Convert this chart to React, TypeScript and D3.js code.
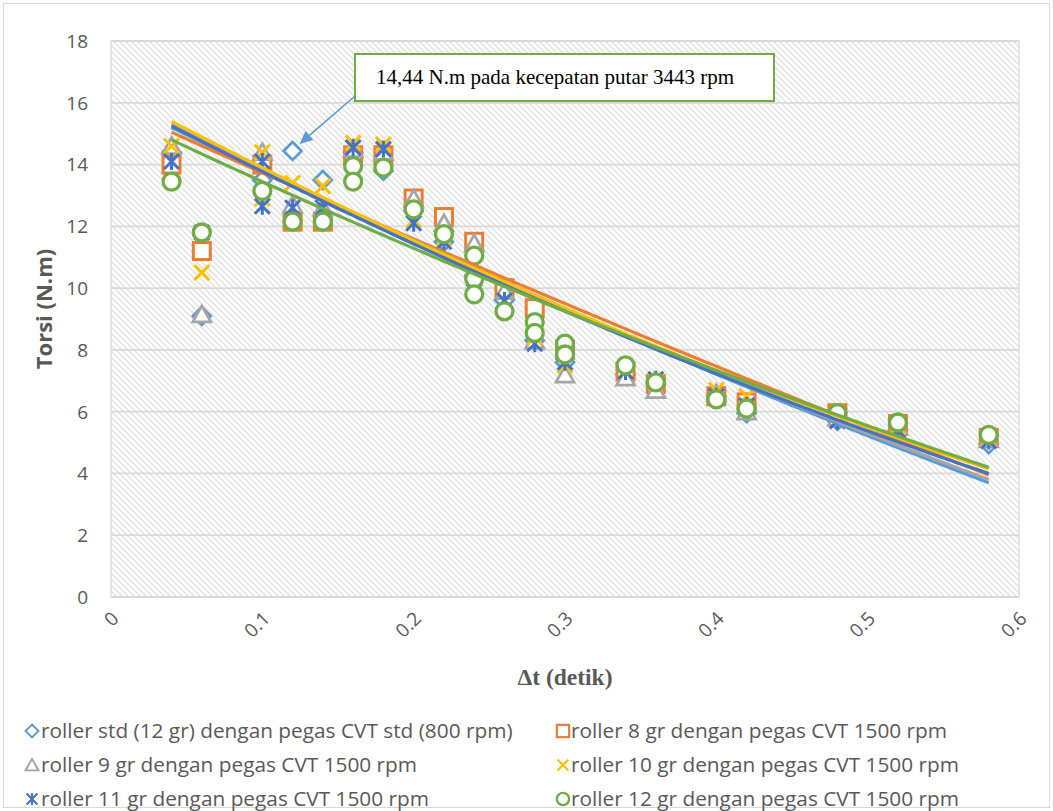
import React from "react";
import * as d3 from "d3";

// ---------- data ----------
const seriesNames = [
  "roller std (12 gr) dengan pegas CVT std (800 rpm)",
  "roller 8 gr dengan pegas CVT 1500 rpm",
  "roller 9 gr dengan pegas CVT 1500 rpm",
  "roller 10 gr dengan pegas CVT 1500 rpm",
  "roller 11 gr dengan pegas CVT 1500 rpm",
  "roller 12 gr dengan pegas CVT 1500 rpm",
];
const seriesColors = ["#5B9BD5", "#ED7D31", "#A5A5A5", "#FFC000", "#4472C4", "#70AD47"];
const seriesMarkers = ["diamond", "square", "triangle", "x", "star", "circle"];

const stdX = [0.04, 0.06, 0.1, 0.12, 0.14, 0.16, 0.18, 0.2, 0.22, 0.24, 0.26, 0.28, 0.3, 0.34, 0.36, 0.4, 0.42, 0.48, 0.52, 0.58];
const stdY = [14.4, 9.1, 13.5, 14.44, 13.5, 14.4, 13.8, 12.5, 11.5, 10.4, 9.6, 8.3, 7.6, 7.2, 6.9, 6.5, 5.95, 5.7, 5.4, 4.95];

const r8X = [0.04, 0.06, 0.1, 0.12, 0.14, 0.16, 0.18, 0.2, 0.22, 0.24, 0.26, 0.28, 0.3, 0.34, 0.36, 0.4, 0.42, 0.48, 0.52, 0.58];
const r8Y = [14.0, 11.2, 14.0, 12.15, 12.15, 14.3, 14.3, 12.9, 12.3, 11.5, 10.0, 9.35, 8.0, 7.3, 6.9, 6.5, 6.3, 5.95, 5.6, 5.15];

const r9X = [0.04, 0.06, 0.1, 0.12, 0.14, 0.16, 0.18, 0.2, 0.22, 0.24, 0.26, 0.28, 0.3, 0.34, 0.36, 0.4, 0.42, 0.48, 0.52, 0.58];
const r9Y = [14.6, 9.15, 14.4, 12.7, 12.6, 14.5, 14.4, 12.9, 12.1, 11.45, 9.9, 8.3, 7.2, 7.1, 6.7, 6.6, 6.0, 5.8, 5.5, 5.1];

const r10X = [0.04, 0.06, 0.1, 0.1, 0.12, 0.14, 0.16, 0.18, 0.2, 0.22, 0.24, 0.26, 0.28, 0.3, 0.34, 0.36, 0.4, 0.42, 0.48, 0.52, 0.58];
const r10Y = [14.6, 10.5, 14.4, 12.9, 13.4, 13.3, 14.7, 14.65, 12.2, 11.6, 10.4, 9.6, 8.4, 7.5, 7.3, 7.0, 6.7, 6.5, 5.9, 5.5, 5.1];

const r11X = [0.04, 0.06, 0.1, 0.1, 0.12, 0.14, 0.16, 0.18, 0.2, 0.22, 0.24, 0.26, 0.28, 0.3, 0.34, 0.36, 0.4, 0.42, 0.48, 0.52, 0.58];
const r11Y = [14.1, 11.8, 14.1, 12.65, 12.6, 12.6, 14.55, 14.5, 12.1, 11.5, 10.3, 9.6, 8.2, 7.6, 7.3, 7.05, 6.5, 6.2, 5.7, 5.4, 5.05];

const r12X = [0.04, 0.06, 0.1, 0.12, 0.14, 0.16, 0.16, 0.18, 0.2, 0.22, 0.24, 0.24, 0.24, 0.26, 0.28, 0.28, 0.3, 0.3, 0.34, 0.36, 0.4, 0.42, 0.48, 0.52, 0.58];
const r12Y = [13.45, 11.8, 13.15, 12.15, 12.15, 13.95, 13.45, 13.9, 12.55, 11.75, 11.05, 10.3, 9.8, 9.25, 8.9, 8.55, 8.2, 7.85, 7.5, 6.95, 6.4, 6.1, 5.95, 5.65, 5.25];

const seriesX = [stdX, r8X, r9X, r10X, r11X, r12X];
const seriesY = [stdY, r8Y, r9Y, r10Y, r11Y, r12Y];

// trendline values at three Δt positions (start, middle, end)
const trendAnchorX = [0.04, 0.3, 0.58];
const trendStd = [15.2, 9.3, 3.7];
const trend8 = [15.05, 9.5, 3.95];
const trend9 = [15.3, 9.35, 3.8];
const trend10 = [15.4, 9.35, 4.15];
const trend11 = [15.25, 9.25, 4.0];
const trend12 = [14.8, 9.25, 4.2];
const trendValues = [trendStd, trend8, trend9, trend10, trend11, trend12];

const yTicks = [0, 2, 4, 6, 8, 10, 12, 14, 16, 18];
const xTicks = [0, 0.1, 0.2, 0.3, 0.4, 0.5, 0.6];
const xTickLabels = ["0", "0.1", "0.2", "0.3", "0.4", "0.5", "0.6"];

const annotationText = "14,44 N.m pada kecepatan putar 3443 rpm";
const annotatedPoint = { x: 0.12, y: 14.44 };

// quadratic through three anchor points (Lagrange form)
function quad(xs: number[], ys: number[], t: number): number {
  const [x0, x1, x2] = xs;
  const [y0, y1, y2] = ys;
  return (
    (y0 * (t - x1) * (t - x2)) / ((x0 - x1) * (x0 - x2)) +
    (y1 * (t - x0) * (t - x2)) / ((x1 - x0) * (x1 - x2)) +
    (y2 * (t - x0) * (t - x1)) / ((x2 - x0) * (x2 - x1))
  );
}

function Marker({ type, color }: { type: string; color: string }) {
  const sw = 3;
  switch (type) {
    case "diamond":
      return <path d="M0,-9L9,0L0,9L-9,0Z" fill="#fff" stroke={color} strokeWidth={sw - 0.3} />;
    case "square":
      return <rect x={-8.5} y={-8.5} width={17} height={17} fill="#fff" stroke={color} strokeWidth={sw} />;
    case "triangle":
      return <path d="M0,-8.5L9,7.5L-9,7.5Z" fill="#fff" stroke={color} strokeWidth={sw - 0.3} />;
    case "x":
      return <path d="M-7.5,-7.5L7.5,7.5M7.5,-7.5L-7.5,7.5" fill="none" stroke={color} strokeWidth={sw} />;
    case "star":
      return <path d="M-7.5,-7.5L7.5,7.5M7.5,-7.5L-7.5,7.5M0,-8.5L0,8.5" fill="none" stroke={color} strokeWidth={sw} />;
    default:
      return <circle r={8.5} fill="#fff" stroke={color} strokeWidth={sw + 0.3} />;
  }
}

export default function App() {
  const W = 1053, H = 811;
  const left = 111, right = 1019, top = 41, bottom = 597;
  const x = d3.scaleLinear().domain([0, 0.6]).range([left, right]);
  const y = d3.scaleLinear().domain([0, 18]).range([bottom, top]);

  const sans = "'Open Sans', 'Noto Sans', sans-serif";
  const serif = "'Liberation Serif', 'DejaVu Serif', serif";
  const grid = "#d9d9d9";
  const textColor = "#595959";

  const line = d3.line<[number, number]>().x((d) => x(d[0])).y((d) => y(d[1]));
  const sampleXs = d3.range(0, 55).map((i) => trendAnchorX[0] + ((trendAnchorX[2] - trendAnchorX[0]) * i) / 54);

  const ax = x(annotatedPoint.x), ay = y(annotatedPoint.y);
  const boxX = 355, boxY = 54, boxW = 419, boxH = 47;
  const arrowStart = [boxX, boxY + boxH - 5];
  const arrowEnd = [ax + 7, ay - 7];
  const ang = Math.atan2(arrowEnd[1] - arrowStart[1], arrowEnd[0] - arrowStart[0]);
  const ah = 13, aw = 6;
  const bx = arrowEnd[0] - ah * Math.cos(ang), by = arrowEnd[1] - ah * Math.sin(ang);
  const head = `M${arrowEnd[0]},${arrowEnd[1]}L${bx + aw * Math.sin(ang)},${by - aw * Math.cos(ang)}L${bx - aw * Math.sin(ang)},${by + aw * Math.cos(ang)}Z`;

  const legendRows = [731, 765, 799];
  const legendCols = [{ mx: 32, tx: 41 }, { mx: 563, tx: 571 }];

  return (
    <svg width={W} height={H} style={{ position: "absolute", left: 0, top: 0 }} xmlns="http://www.w3.org/2000/svg">
      <defs>
        <pattern id="hatch" patternUnits="userSpaceOnUse" width={6} height={6}>
          <rect width={6} height={6} fill="#fff" />
          <path d="M-1,-1L7,7M-1,5L1,7M5,-1L7,1" stroke="#e0e0e0" strokeWidth={1.3} />
        </pattern>
      </defs>
      <rect x={0} y={0} width={W} height={H} fill="#fff" />
      <rect x={3.5} y={3.5} width={W - 7} height={H - 7} fill="none" stroke={grid} strokeWidth={1} />

      {/* plot area */}
      <rect x={left} y={top} width={right - left} height={bottom - top} fill="url(#hatch)" stroke={grid} strokeWidth={1.3} />
      {yTicks.map((t) => (
        <line key={t} x1={left} x2={right} y1={y(t)} y2={y(t)} stroke={grid} strokeWidth={1.8} />
      ))}

      {/* y tick labels */}
      {yTicks.map((t) => (
        <text key={t} x={88} y={y(t)} dy="0.36em" textAnchor="end" fontFamily={sans} fontSize={19} fill={textColor}>
          {t}
        </text>
      ))}
      {/* x tick labels */}
      {xTicks.map((t, i) => (
        <text
          key={t}
          transform={`translate(${x(t) + 4},${615}) rotate(-45)`}
          dy="0.36em"
          textAnchor="end"
          fontFamily={sans}
          fontSize={19}
          fill={textColor}
        >
          {xTickLabels[i]}
        </text>
      ))}

      {/* axis titles */}
      <text transform={`translate(52,309) rotate(-90)`} textAnchor="middle" fontFamily={sans} fontWeight="bold" fontSize={22} fill={textColor}>
        Torsi (N.m)
      </text>
      <text x={565} y={685} textAnchor="middle" fontFamily={serif} fontWeight="bold" fontSize={23.5} fill={textColor}>
        Δt (detik)
      </text>

      {/* markers */}
      {seriesX.map((xs, si) => (
        <g key={si}>
          {xs.map((xv, i) => (
            <g key={i} transform={`translate(${x(xv)},${y(seriesY[si][i])})`}>
              <Marker type={seriesMarkers[si]} color={seriesColors[si]} />
            </g>
          ))}
        </g>
      ))}

      {/* trendlines */}
      {trendValues.map((vals, si) => (
        <path
          key={si}
          d={line(sampleXs.map((xv) => [xv, quad(trendAnchorX, vals, xv)]))!}
          fill="none"
          stroke={seriesColors[si]}
          strokeWidth={3.2}
        />
      ))}

      {/* annotation */}
      <line x1={arrowStart[0]} y1={arrowStart[1]} x2={bx} y2={by} stroke="#5B9BD5" strokeWidth={1.6} />
      <path d={head} fill="#5B9BD5" />
      <rect x={boxX} y={boxY} width={boxW} height={boxH} fill="#fff" stroke="#70AD47" strokeWidth={2} />
      <text x={376} y={84} fontFamily={serif} fontSize={21} fill="#000">
        {annotationText}
      </text>

      {/* legend */}
      {seriesNames.map((name, i) => {
        const row = legendRows[Math.floor(i / 2)];
        const col = legendCols[i % 2];
        return (
          <g key={name}>
            <g transform={`translate(${col.mx},${row}) scale(0.72)`}>
              <Marker type={seriesMarkers[i]} color={seriesColors[i]} />
            </g>
            <text x={col.tx} y={row} dy="0.36em" fontFamily={sans} fontSize={20.8} fill={textColor}>
              {name}
            </text>
          </g>
        );
      })}
    </svg>
  );
}
